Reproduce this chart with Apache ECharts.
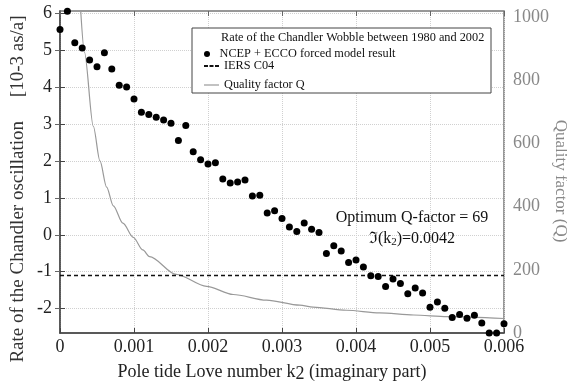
<!DOCTYPE html>
<html><head><meta charset="utf-8">
<script src="https://cdn.jsdelivr.net/npm/echarts@6/dist/echarts.min.js"></script>
<style>html,body{margin:0;padding:0;background:#fff}#c{width:567px;height:382px}</style>
</head><body><div id="c"></div>
<script>
// Pole tide Love number k2 (imaginary part)
const kValues = [0,0.0001,0.0002,0.0003,0.0004,0.0005,0.0006,0.0007,0.0008,0.0009,
  0.0010,0.0011,0.0012,0.0013,0.0014,0.0015,0.0016,0.0017,0.0018,0.0019,
  0.0020,0.0021,0.0022,0.0023,0.0024,0.0025,0.0026,0.0027,0.0028,0.0029,
  0.0030,0.0031,0.0032,0.0033,0.0034,0.0035,0.0036,0.0037,0.0038,0.0039,
  0.0040,0.0041,0.0042,0.0043,0.0044,0.0045,0.0046,0.0047,0.0048,0.0049,
  0.0050,0.0051,0.0052,0.0053,0.0054,0.0055,0.0056,0.0057,0.0058,0.0059,0.0060];
// NCEP + ECCO forced model result [10-3 as/a]
const rateValues = [5.56,6.05,5.20,5.06,4.73,4.55,4.93,4.49,4.05,4.00,
  3.68,3.32,3.26,3.18,3.11,3.02,2.55,2.96,2.25,2.03,
  1.92,1.95,1.51,1.40,1.43,1.48,1.05,1.07,0.59,0.65,
  0.44,0.21,0.09,0.32,0.15,0.06,-0.51,-0.30,-0.44,-0.75,
  -0.68,-0.87,-1.11,-1.13,-1.40,-1.20,-1.32,-1.60,-1.44,-1.58,
  -1.96,-1.82,-1.99,-2.24,-2.16,-2.26,-2.18,-2.39,-2.66,-2.66,-2.41];
// IERS C04 rate
const iersK = [0, 0.006];
const iersValues = [-1.1, -1.1];
// Quality factor Q curve
const qK = [0.00028,0.00033,0.00045,0.00054,0.00063,0.00072,0.00085,0.00099,0.00112,0.00121,
  0.00157,0.00198,0.00234,0.00279,0.00324,0.00342,0.00387,0.00432,0.00478,0.00523,0.0060];
const qValues = [1020,890,655,545,462,403,348,303,263,242,
  186,148,122,104,88,82,72,64,57,52,46];
// tick labels
const leftTicks = [-2,-1,0,1,2,3,4,5,6];
const rightTicks = [0,200,400,600,800,1000];

const SERIF = '"Liberation Serif","DejaVu Serif",serif';
const zip = (a,b) => a.map((v,i)=>[v,b[i]]);
const legText = {fontFamily: SERIF, fontSize: 12.3, color: '#111'};

const chart = echarts.init(document.getElementById('c'));
const option = {
  animation: false,
  backgroundColor: '#fff',
  grid: {left: 60, right: 63, top: 11, bottom: 49, show: true, borderColor: '#777', borderWidth: 1.5, backgroundColor: 'transparent'},
  xAxis: [
    {type: 'value', min: 0, max: 0.006, interval: 0.001, position: 'bottom',
     axisLine: {show: true, onZero: false, lineStyle: {color: '#444', width: 1.5}},
     axisTick: {show: true, inside: true, length: 5, lineStyle: {color: '#444'}},
     axisLabel: {color: '#222', fontFamily: SERIF, fontSize: 18, margin: 5,
       formatter: v => v === 0 ? '0' : v.toFixed(3)},
     splitLine: {show: true, lineStyle: {color: '#d0d0d0', type: 'dotted', width: 1}}},
    {type: 'value', min: 0, max: 0.006, interval: 0.001, position: 'top',
     axisLine: {show: false, onZero: false}, axisTick: {show: true, inside: true, length: 5, lineStyle: {color: '#666'}},
     axisLabel: {show: false}, splitLine: {show: false}}
  ],
  yAxis: [
    {type: 'value', min: -2.66, max: 6.06, position: 'left',
     axisLine: {show: true, onZero: false, lineStyle: {color: '#444', width: 1.5}},
     axisTick: {show: true, inside: true, length: 5, customValues: leftTicks, lineStyle: {color: '#444'}},
     axisLabel: {customValues: leftTicks, color: '#222', fontFamily: SERIF, fontSize: 18, margin: 8},
     splitLine: {show: true, lineStyle: {color: '#d0d0d0', type: 'dotted', width: 1}}},
    {type: 'value', min: 0, max: 1020, position: 'right', offset: 0,
     axisLine: {show: false}, axisTick: {show: false},
     axisLabel: {customValues: rightTicks, color: '#888', fontFamily: SERIF, fontSize: 18, margin: 9,
       formatter: v => String(v)},
     splitLine: {show: false}},
    {type: 'value', min: -2.66, max: 6.06, position: 'right', offset: 0,
     axisLine: {show: false},
     axisTick: {show: true, inside: true, length: 5, customValues: leftTicks, lineStyle: {color: '#666'}},
     axisLabel: {show: false}, splitLine: {show: false}}
  ],
  legend: [
    {data: [{name: 'NCEP + ECCO forced model result', icon: 'circle'}], left: 199, top: 43, itemWidth: 15, itemHeight: 6,
     textStyle: legText, z: 10, selectedMode: false},
    {data: [{name: 'IERS C04', icon: 'path://M0,0h4v2h-4zM5.5,0h4v2h-4zM11,0h4v2h-4z', itemStyle: {color: '#111'}}], left: 199, top: 55, itemWidth: 15, itemHeight: 2,
     textStyle: legText, z: 10, selectedMode: false},
    {data: [{name: 'Quality factor Q', icon: 'path://M0,0h15v1.2h-15z', itemStyle: {color: '#999'}}], left: 199, top: 74, itemWidth: 15, itemHeight: 1.2,
     textStyle: legText, z: 10, selectedMode: false}
  ],
  series: [
    {name: 'Quality factor Q', type: 'line', xAxisIndex: 0, yAxisIndex: 1, data: zip(qK, qValues),
     smooth: 0.3, smoothMonotone: 'x', symbol: 'none', lineStyle: {color: '#999', width: 1.2}, itemStyle: {color: '#999'}, z: 2},
    {name: 'IERS C04', type: 'line', xAxisIndex: 0, yAxisIndex: 0, data: zip(iersK, iersValues),
     symbol: 'none', lineStyle: {color: '#111', width: 1.5, type: [4, 3]}, itemStyle: {color: '#111'}, z: 3},
    {name: 'NCEP + ECCO forced model result', type: 'scatter', xAxisIndex: 0, yAxisIndex: 0,
     data: zip(kValues, rateValues), symbol: 'circle', symbolSize: 7, clip: false,
     itemStyle: {color: '#000', opacity: 1}, z: 4}
  ],
  graphic: [
    {type: 'rect', shape: {x: 192, y: 28, width: 299, height: 65}, style: {fill: '#fff', stroke: '#444', lineWidth: 1}, z: 5},
    {type: 'text', x: 221, y: 38, style: {text: 'Rate of the Chandler Wobble between 1980 and 2002', font: '12.3px ' + SERIF, fill: '#111', verticalAlign: 'middle'}, z: 6},
    {type: 'text', x: 412, y: 218, style: {text: 'Optimum Q-factor = 69', font: '16px ' + SERIF, fill: '#111', align: 'center', verticalAlign: 'middle'}, z: 6},
    {type: 'text', x: 412, y: 239, style: {text: '\u2111(k{s|2})=0.0042', font: '16px ' + SERIF, fill: '#111', align: 'center', verticalAlign: 'middle',
      rich: {s: {fontSize: 11, fontFamily: SERIF, verticalAlign: 'bottom', padding: [6, 0, 0, 0]}}}, z: 6},
    {type: 'text', x: 18, y: 189, rotation: Math.PI / 2, style: {text: 'Rate of the Chandler oscillation     [10-3 as/a]', font: '19px ' + SERIF, fill: '#333', align: 'center', verticalAlign: 'middle'}},
    {type: 'text', x: 560, y: 181, rotation: -Math.PI / 2, style: {text: 'Quality factor (Q)', font: '17px ' + SERIF, fill: '#888', align: 'center', verticalAlign: 'middle'}},
    {type: 'text', x: 272, y: 372, style: {text: 'Pole tide Love number k{s|2} (imaginary part)', font: '18px ' + SERIF, fill: '#222', align: 'center', verticalAlign: 'middle',
      rich: {s: {fontSize: 18, fontFamily: SERIF, padding: [4, 0, 0, 0]}}}}
  ]
};
chart.setOption(option);
</script></body></html>
